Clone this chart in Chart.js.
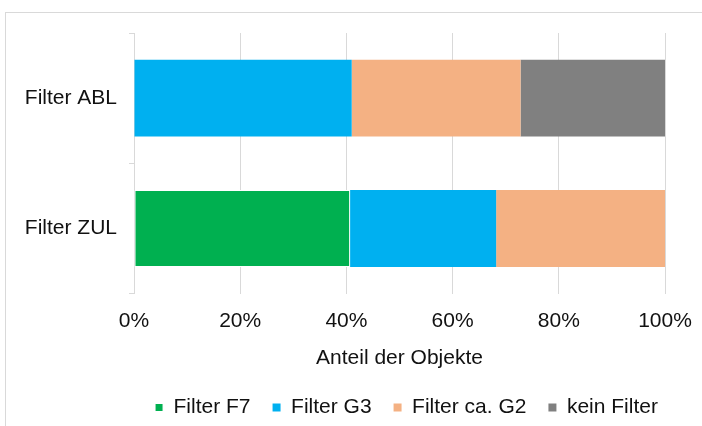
<!DOCTYPE html>
<html>
<head>
<meta charset="utf-8">
<script src="https://cdn.jsdelivr.net/npm/chart.js@4/dist/chart.umd.min.js"></script>
<style>
    html, body { margin: 0; padding: 0; background: #fff; }
    #wrap { position: relative; width: 702px; height: 426px; overflow: hidden; }
    #frame { position: absolute; left: 5px; top: 12px; width: 720px; height: 440px; border-left: 1px solid #d9d9d9; border-top: 1px solid #d9d9d9; }
    canvas { position: absolute; left: 0; top: 0; }
</style>
</head>
<body>
<div id="wrap">
    <div id="frame"></div>
    <canvas id="chart" width="702" height="426"></canvas>
</div>
<script>
const categories = ['Filter ABL', 'Filter ZUL'];
const seriesNames = ['Filter F7', 'Filter G3', 'Filter ca. G2', 'kein Filter'];
const filterF7 = [0, 40.7];
const filterG3 = [41.0, 27.5];
const filterG2 = [31.8, 31.8];
const keinFilter = [27.2, 0];
const xTicks = [0, 20, 40, 60, 80, 100];

document.addEventListener('DOMContentLoaded', () => {
    const font = { family: 'Liberation Sans, Arial, sans-serif', size: 21 };
    const textColor = '#111';
    const gridColor = '#d9d9d9';

    const makeSet = (label, data, color, border) => ({
        label: label,
        data: data,
        backgroundColor: color,
        borderColor: '#fff',
        borderWidth: border,
        borderSkipped: false,
        barPercentage: 0.59,
        categoryPercentage: 1
    });

    // legend sits centred under the plot area, not the whole canvas
    const legendShift = {
        id: 'legendShift',
        afterLayout: (chart) => {
            chart.legend.left += 74;
            chart.legend.right += 74;
        }
    };

    new Chart(document.getElementById('chart').getContext('2d'), {
        type: 'bar',
        data: {
            labels: categories,
            datasets: [
                makeSet(seriesNames[0], filterF7, '#00b050', 1),
                makeSet(seriesNames[1], filterG3, '#00b0f0', 0),
                makeSet(seriesNames[2], filterG2, '#f4b183', 0),
                makeSet(seriesNames[3], keinFilter, '#808080', 0)
            ]
        },
        options: {
            indexAxis: 'y',
            responsive: false,
            animation: false,
            layout: { padding: { left: 0, right: 37, top: 33, bottom: -2 } },
            scales: {
                x: {
                    stacked: true,
                    min: 0,
                    max: 100,
                    afterBuildTicks: (scale) => { scale.ticks = xTicks.map(v => ({ value: v })); },
                    afterFit: (scale) => { scale.paddingLeft = 0; scale.paddingRight = 0; },
                    ticks: { color: textColor, font: font, padding: 15, callback: (v) => v + '%' },
                    grid: { color: gridColor, drawTicks: false },
                    border: { display: false },
                    title: { display: true, text: 'Anteil der Objekte', color: textColor, font: font, padding: { top: -3, bottom: 4 } }
                },
                y: {
                    stacked: true,
                    afterFit: (scale) => { scale.width = 134; },
                    ticks: { color: textColor, font: font, padding: 12 },
                    grid: { color: gridColor, drawOnChartArea: false, drawTicks: true, tickLength: 5 },
                    border: { display: true, color: gridColor }
                }
            },
            plugins: {
                legend: {
                    position: 'bottom',
                    labels: { color: textColor, font: font, boxWidth: 8, boxHeight: 8, padding: 22 }
                },
                tooltip: { enabled: false }
            }
        },
        plugins: [legendShift]
    });
});
</script>
</body>
</html>
